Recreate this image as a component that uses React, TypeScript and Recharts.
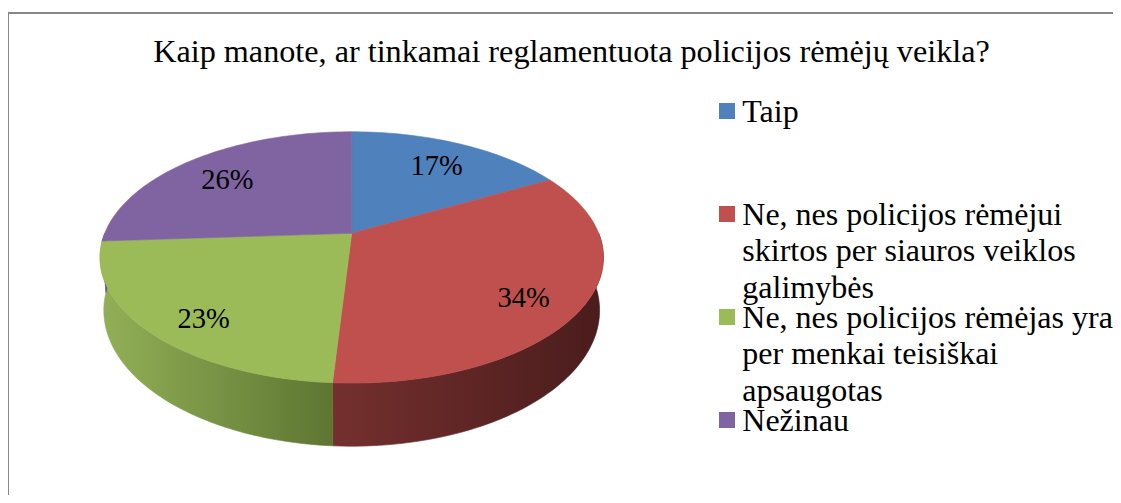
import React from "react";
import { PieChart, Pie, Cell, Legend } from "recharts";

const categories = [
  "Taip",
  "Ne, nes policijos rėmėjui skirtos per siauros veiklos galimybės",
  "Ne, nes policijos rėmėjas yra per menkai teisiškai apsaugotas",
  "Nežinau",
];
const shares = [17, 34, 23, 26];
const colors = ["#4f81bd", "#c0504d", "#9bbb59", "#8064a2"];
const sideFills = ["url(#sideBlue)", "url(#sideRed)", "url(#sideGreen)", "url(#sidePurple)"];
const title = "Kaip manote, ar tinkamai reglamentuota policijos rėmėjų veikla?";

const data = categories.map((name, i) => ({ name, value: shares[i] }));

const FONT = '"Liberation Serif", "Times New Roman", serif';

// fake 3D: perspective-tilted disc
const PERSP = 0.192;
const SQUASH = 0.49;
const DEPTH = 51;
const SHRINK = 0.985;
const RAD = Math.PI / 180;

function proj(cx: number, cy: number, r: number, angle: number, f = 1, bottom = false) {
  const u = Math.cos(angle * RAD) * f;
  const v = -Math.sin(angle * RAD) * f;
  const d = 1 - PERSP * v;
  let x = cx + (r * u) / d;
  let y = cy + (r * SQUASH * v) / d;
  if (bottom) {
    x = cx + (x - cx) * SHRINK;
    y += DEPTH / d;
  }
  return [x, y];
}

function arcPoints(cx: number, cy: number, r: number, a0: number, a1: number, bottom = false) {
  const n = Math.max(2, Math.ceil(Math.abs(a1 - a0) / 1.5) + 1);
  const pts: number[][] = [];
  for (let i = 0; i < n; i++) {
    pts.push(proj(cx, cy, r, a0 + ((a1 - a0) * i) / (n - 1), 1, bottom));
  }
  return pts;
}

const toPath = (pts: number[][]) =>
  pts.map((p, i) => `${i ? "L" : "M"}${p[0].toFixed(2)},${p[1].toFixed(2)}`).join(" ") + " Z";

const TopShape = (p: any) => {
  const pts = [[p.cx, p.cy], ...arcPoints(p.cx, p.cy, p.outerRadius, p.startAngle, p.endAngle)];
  return <path d={toPath(pts)} fill={p.fill} stroke={p.fill} strokeWidth={0.6} />;
};

const SideShape = (p: any) => {
  const lo = Math.min(p.startAngle, p.endAngle);
  const hi = Math.max(p.startAngle, p.endAngle);
  const parts: React.ReactElement[] = [];
  [-540, -180, 180].forEach((s, k) => {
    const a0 = Math.max(lo, s);
    const a1 = Math.min(hi, s + 180);
    if (a1 - a0 > 0.01) {
      const top = arcPoints(p.cx, p.cy, p.outerRadius, a0, a1);
      const bot = arcPoints(p.cx, p.cy, p.outerRadius, a1, a0, true);
      parts.push(<path key={k} d={toPath([...top, ...bot])} fill={p.fill} stroke={p.fill} strokeWidth={0.6} />);
    }
  });
  return <g>{parts}</g>;
};

const renderLabel = (p: any) => {
  const [x, y] = proj(p.cx, p.cy, p.outerRadius, p.midAngle, 0.76);
  const front = -Math.sin(p.midAngle * RAD);
  return (
    <text
      x={x}
      y={y + 8 + 6 * front}
      textAnchor="middle"
      dominantBaseline="central"
      fill="#000"
      fontSize={28.5}
      style={{ fontFamily: FONT }}
    >
      {`${Math.round(p.percent * 100)}%`}
    </text>
  );
};

const renderLegend = (props: any) => {
  const items = (props.payload || [])
    .filter((e: any) => e.type !== "none" && !String(e.color || "").startsWith("url"))
    .sort((a: any, b: any) => categories.indexOf(a.value) - categories.indexOf(b.value));
  return (
    <div style={{ position: "relative", width: 400, height: 480 }}>
      {items.map((e: any, i: number) => (
        <div key={i} style={{ position: "absolute", left: 0, top: i * 102.8, width: 400 }}>
          <span style={{ position: "absolute", left: 0, top: 10, width: 16, height: 16, background: e.color }} />
          <div
            style={{
              marginLeft: 23.3,
              width: 378,
              fontFamily: FONT,
              fontSize: 32,
              lineHeight: "36.5px",
              color: "#000",
            }}
          >
            {e.value}
          </div>
        </div>
      ))}
    </div>
  );
};

export default function App() {
  return (
    <div
      style={{
        margin: -8,
        position: "relative",
        width: 1121,
        height: 503,
        overflow: "hidden",
        background: "#fff",
        fontFamily: FONT,
      }}
    >
      <div
        style={{
          position: "absolute",
          left: 7,
          top: 12,
          width: 1200,
          height: 600,
          border: "2px solid #878787",
        }}
      />
      <div
        style={{
          position: "absolute",
          left: 0,
          top: 32.5,
          width: 1143,
          textAlign: "center",
          fontFamily: FONT,
          fontSize: 32.2,
          lineHeight: "36.5px",
          color: "#000",
          whiteSpace: "nowrap",
        }}
      >
        {title}
      </div>
      <div style={{ position: "absolute", left: 0, top: 0 }}>
        <PieChart width={1121} height={503} margin={{ top: 0, right: 0, bottom: 0, left: 0 }}>
          <defs>
            <linearGradient id="sideGreen" gradientUnits="userSpaceOnUse" x1={100} y1={0} x2={604} y2={0}>
              <stop offset="0" stopColor="#92b057" />
              <stop offset="0.46" stopColor="#5e7632" />
              <stop offset="1" stopColor="#4a5e27" />
            </linearGradient>
            <linearGradient id="sideRed" gradientUnits="userSpaceOnUse" x1={100} y1={0} x2={604} y2={0}>
              <stop offset="0" stopColor="#9a3c3a" />
              <stop offset="0.46" stopColor="#74302e" />
              <stop offset="1" stopColor="#4a1c1c" />
            </linearGradient>
            <linearGradient id="sideBlue" gradientUnits="userSpaceOnUse" x1={100} y1={0} x2={604} y2={0}>
              <stop offset="0" stopColor="#3d6494" />
              <stop offset="1" stopColor="#26405f" />
            </linearGradient>
            <linearGradient id="sidePurple" gradientUnits="userSpaceOnUse" x1={100} y1={0} x2={604} y2={0}>
              <stop offset="0" stopColor="#6a5386" />
              <stop offset="1" stopColor="#3f3152" />
            </linearGradient>
          </defs>
          <Pie
            data={data}
            dataKey="value"
            nameKey="name"
            cx={351.7}
            cy={233.3}
            outerRadius={247}
            startAngle={90}
            endAngle={-270}
            legendType="none"
            isAnimationActive={false}
            shape={SideShape}
            label={false}
            labelLine={false}
          >
            {data.map((d, i) => (
              <Cell key={d.name} fill={sideFills[i]} />
            ))}
          </Pie>
          <Pie
            data={data}
            dataKey="value"
            nameKey="name"
            cx={351.7}
            cy={233.3}
            outerRadius={247}
            startAngle={90}
            endAngle={-270}
            isAnimationActive={false}
            shape={TopShape}
            label={renderLabel}
            labelLine={false}
          >
            {data.map((d, i) => (
              <Cell key={d.name} fill={colors[i]} />
            ))}
          </Pie>
          <Legend
            layout="vertical"
            align="right"
            verticalAlign="top"
            content={renderLegend}
            wrapperStyle={{ left: 719, top: 93.2, width: 400 }}
          />
        </PieChart>
      </div>
    </div>
  );
}
